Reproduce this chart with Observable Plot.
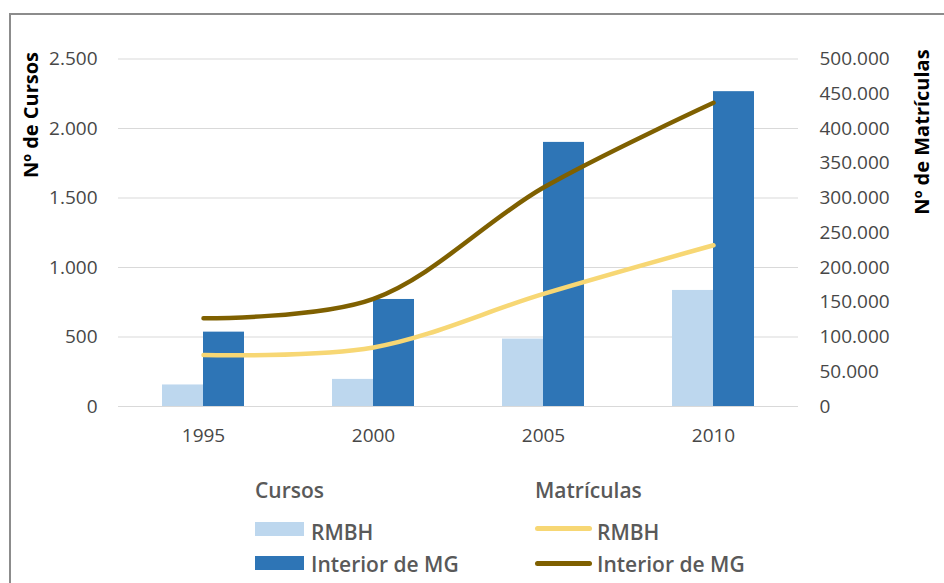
<!DOCTYPE html>
<html>
<head>
<meta charset="utf-8">
<script src="https://cdn.jsdelivr.net/npm/d3@7"></script>
<script src="https://cdn.jsdelivr.net/npm/@observablehq/plot@0.6"></script>
<style>
  html, body { margin: 0; padding: 0; background: #fff; }
  #page { position: relative; width: 944px; height: 583px; overflow: hidden; font-family: "Open Sans", sans-serif; }
  #frame { position: absolute; left: 9px; top: 13px; width: 1000px; height: 1000px; border-left: 2px solid #8c8c8c; border-top: 2px solid #8c8c8c; }
  #chart { position: absolute; left: 0; top: 0; }
  .ytitle { position: absolute; font-weight: bold; font-size: 20px; color: #000; white-space: nowrap; transform: translate(-50%, -50%) rotate(-90deg); }
  .leg { position: absolute; font-size: 21px; font-weight: 600; color: #595959; white-space: nowrap; line-height: 1; transform: translateY(-50%); }
  .sw { position: absolute; }
</style>
</head>
<body>
<div id="page">
  <div id="frame"></div>
  <div id="chart"></div>
  <div class="ytitle" style="left:30px; top:115px;">Nº de Cursos</div>
  <div class="ytitle" style="left:921px; top:132px;">Nº de Matrículas</div>
  <div id="legend"></div>
</div>
<script>
const years = ["1995", "2000", "2005", "2010"];
const cursosRMBH = [155, 195, 485, 835];
const cursosInterior = [535, 770, 1900, 2265];
const matriculasRMBH = [74000, 85000, 162000, 232000];
const matriculasInterior = [127000, 155000, 315000, 437000];
const leftTicks = [0, 500, 1000, 1500, 2000, 2500];
const rightTicks = [0, 50000, 100000, 150000, 200000, 250000, 300000, 350000, 400000, 450000, 500000];
const seriesNames = ["RMBH", "Interior de MG"];
const groupTitles = ["Cursos", "Matrículas"];

const colors = { barRMBH: "#BDD7EE", barInterior: "#2E75B6", lineRMBH: "#F7D774", lineInterior: "#7F6000" };
const SCALE = 500000 / 2500;

const fmt = d3.formatLocale({ decimal: ",", thousands: ".", grouping: [3], currency: ["", ""] }).format(",");

const bars = years.map((y, i) => ({ year: y, rmbh: cursosRMBH[i], interior: cursosInterior[i] }));
const lines = years.map((y, i) => ({ year: y, rmbh: matriculasRMBH[i] / SCALE, interior: matriculasInterior[i] / SCALE }));

const chart = Plot.plot({
  width: 944,
  height: 460,
  marginLeft: 118,
  marginRight: 146,
  marginTop: 58.5,
  marginBottom: 54,
  style: { fontFamily: "Open Sans, sans-serif", fontSize: "19px", color: "#474747", background: "transparent" },
  x: { type: "band", domain: years, padding: 0, label: null },
  y: { domain: [0, 2500], label: null },
  marks: [
    Plot.gridY(leftTicks, { stroke: "#d9d9d9", strokeOpacity: 1, strokeWidth: 1 }),
    Plot.barY(bars, { x: "year", y: "rmbh", fill: colors.barRMBH, insetLeft: 44, insetRight: 85 }),
    Plot.barY(bars, { x: "year", y: "interior", fill: colors.barInterior, insetLeft: 85, insetRight: 44 }),
    Plot.line(lines, { x: "year", y: "rmbh", stroke: colors.lineRMBH, strokeWidth: 4.5, curve: "catmull-rom" }),
    Plot.line(lines, { x: "year", y: "interior", stroke: colors.lineInterior, strokeWidth: 4.5, curve: "catmull-rom" }),
    Plot.axisY(leftTicks, { anchor: "left", tickSize: 0, tickPadding: 21, tickFormat: d => fmt(d) }),
    Plot.axisY(rightTicks.map(v => v / SCALE), { anchor: "right", tickSize: 0, tickPadding: 21, tickFormat: d => fmt(Math.round(d * SCALE)) }),
    Plot.axisX({ tickSize: 0, tickPadding: 22 })
  ]
});
document.getElementById("chart").appendChild(chart);

// Legend (HTML)
const legend = document.getElementById("legend");
function add(html) { legend.insertAdjacentHTML("beforeend", html); }
add(`<div class="leg" style="left:255px; top:490px;">${groupTitles[0]}</div>`);
add(`<div class="leg" style="left:535px; top:490px;">${groupTitles[1]}</div>`);
add(`<div class="sw" style="left:255px; top:522px; width:49px; height:14px; background:${colors.barRMBH}"></div>`);
add(`<div class="sw" style="left:255px; top:556px; width:49px; height:14px; background:${colors.barInterior}"></div>`);
add(`<div class="leg" style="left:311px; top:532px;">${seriesNames[0]}</div>`);
add(`<div class="leg" style="left:311px; top:564px;">${seriesNames[1]}</div>`);
add(`<div class="sw" style="left:535px; top:526px; width:57px; height:5px; border-radius:2.5px; background:${colors.lineRMBH}"></div>`);
add(`<div class="sw" style="left:535px; top:561px; width:57px; height:5px; border-radius:2.5px; background:${colors.lineInterior}"></div>`);
add(`<div class="leg" style="left:597px; top:532px;">${seriesNames[0]}</div>`);
add(`<div class="leg" style="left:597px; top:564px;">${seriesNames[1]}</div>`);
</script>
</body>
</html>
